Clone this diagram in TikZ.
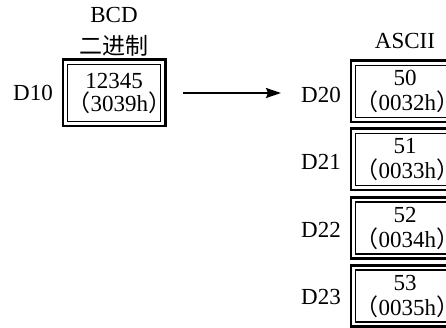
\documentclass[tikz,border=0pt]{standalone}
\usepackage{fontspec}
\setmainfont{Liberation Serif}
\newfontfamily\cjk{Noto Sans CJK SC}
\usetikzlibrary{arrows.meta}
\newcommand{\fwp}[1]{{\cjk （}#1{\cjk ）}}
\tikzset{
  txt/.style={inner sep=0pt, align=center, font=\fontsize{23}{23}\selectfont},
  regbox/.style={txt, draw, line width=1.2pt},
  frame/.style={draw, line width=2.8pt},
  conv/.style={-{Stealth[length=15pt,width=10pt,inset=2pt]}, line width=1.8pt}
}
\begin{document}
\begin{tikzpicture}[x=1pt,y=-1pt]
            \clip (0,0) rectangle (446,328);
            % Source register
            \node[txt] (bcd) at (114,32) {BCD\\[9pt]{\cjk 二进制}};
            \node[regbox, text width=93pt, minimum height=57pt] (d10) at (114,93) {12345\\\fwp{3039h}};
            \node[txt] (l10) at (33,93) {D10};
            
            % Destination registers
            \node[txt] (ascii) at (405,41) {ASCII};
            \node[regbox, text width=99pt, minimum height=52pt] (d20) at (405,91.5) {50\\[2pt]\fwp{0032h}};
            \node[regbox, text width=99pt, minimum height=52pt] (d21) at (405,159.5) {51\\[2pt]\fwp{0033h}};
            \node[regbox, text width=99pt, minimum height=52pt] (d22) at (405,228) {52\\[2pt]\fwp{0034h}};
            \node[regbox, text width=99pt, minimum height=52pt] (d23) at (405,296) {53\\[2pt]\fwp{0035h}};
            \node[txt] (l20) at (321,95) {D20};
            \node[txt] (l21) at (321,162) {D21};
            \node[txt] (l22) at (321,230) {D22};
            \node[txt] (l23) at (321,297) {D23};
            
            % Outer frames
            \foreach \r in {d10,d20,d21,d22,d23}
              \draw[frame] ([xshift=-4pt,yshift=4pt]\r.north west) rectangle ([xshift=4pt,yshift=-4pt]\r.south east);
            
            % Arrow
            \draw[conv, shorten <=22pt, shorten >=20pt] (d10.east) -- (d10.east -| l20.west);
        \end{tikzpicture}
\end{document}
